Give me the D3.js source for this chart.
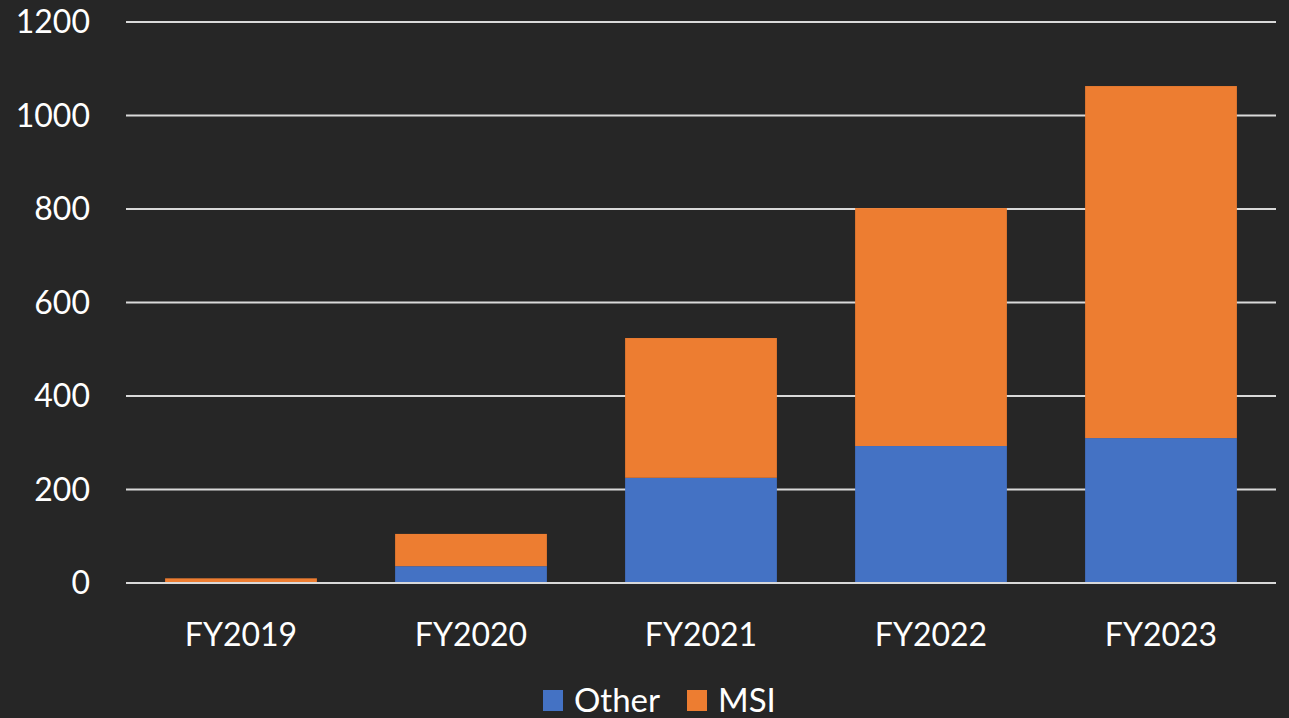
<!doctype html>
<html lang="en">
<head>
  <meta charset="utf-8">
  <script src="https://d3js.org/d3.v7.min.js"></script>
  <style>
    html, body { margin: 0; padding: 0; background: #262626; }
    svg { display: block; }
  </style>
</head>
<body>
<svg width="1289" height="718"></svg>
<script>

var categories = ["FY2019", "FY2020", "FY2021", "FY2022", "FY2023"];
var other = [0, 36, 225, 293, 310];
var msi = [10, 69, 299, 509, 753];
var seriesNames = ["Other", "MSI"];
var seriesColors = ["#4472C4", "#ED7D31"];
var yTicks = [0, 200, 400, 600, 800, 1000, 1200];

var svg = d3.select("svg"),
    width = 1289,
    height = 718,
    margin = {top: 22, right: 13, bottom: 135, left: 126},
    font = "Lato, 'Open Sans', sans-serif";

var rows = categories.map(function(c, i) {
  return {cat: c, Other: other[i], MSI: msi[i]};
});

var stack = d3.stack().keys(seriesNames)(rows);

var x = d3.scaleBand()
    .domain(categories)
    .range([margin.left, width - margin.right])
    .paddingInner(0.34)
    .paddingOuter(0.17);

var y = d3.scaleLinear()
    .domain([0, 1200])
    .range([height - margin.bottom, margin.top]);

// gridlines
svg.append("g")
  .selectAll("line")
  .data(yTicks)
  .join("line")
    .attr("x1", margin.left)
    .attr("x2", width - margin.right)
    .attr("y1", function(d) { return y(d); })
    .attr("y2", function(d) { return y(d); })
    .attr("stroke", "#D9D9D9")
    .attr("stroke-width", 2);

// bars
svg.append("g")
  .selectAll("g")
  .data(stack)
  .join("g")
    .attr("fill", function(d, i) { return seriesColors[i]; })
  .selectAll("rect")
  .data(function(d) { return d; })
  .join("rect")
    .attr("x", function(d) { return x(d.data.cat); })
    .attr("width", x.bandwidth())
    .attr("y", function(d) { return y(d[1]); })
    .attr("height", function(d) { return y(d[0]) - y(d[1]); });

// baseline drawn over bars
svg.append("line")
    .attr("x1", margin.left)
    .attr("x2", width - margin.right)
    .attr("y1", y(0))
    .attr("y2", y(0))
    .attr("stroke", "#D9D9D9")
    .attr("stroke-width", 2);

// y labels
svg.append("g")
  .selectAll("text")
  .data(yTicks)
  .join("text")
    .attr("x", 90)
    .attr("y", function(d) { return y(d); })
    .attr("dy", "0.35em")
    .attr("text-anchor", "end")
    .attr("fill", "#FFFFFF")
    .style("font-family", font)
    .style("font-size", "32px")
    .text(function(d) { return d; });

// x labels
svg.append("g")
  .selectAll("text")
  .data(categories)
  .join("text")
    .attr("x", function(d) { return x(d) + x.bandwidth() / 2; })
    .attr("y", 646)
    .attr("text-anchor", "middle")
    .attr("fill", "#FFFFFF")
    .style("font-family", font)
    .style("font-size", "32px")
    .text(function(d) { return d; });

// legend
var legendX = [543, 687];
var legend = svg.append("g")
  .selectAll("g")
  .data(seriesNames)
  .join("g")
    .attr("transform", function(d, i) { return "translate(" + legendX[i] + ",0)"; });

legend.append("rect")
    .attr("y", 690)
    .attr("width", 20)
    .attr("height", 21)
    .attr("fill", function(d, i) { return seriesColors[i]; });

legend.append("text")
    .attr("x", 31)
    .attr("y", 712)
    .attr("fill", "#FFFFFF")
    .style("font-family", font)
    .style("font-size", "33px")
    .text(function(d) { return d; });

</script>
</body>
</html>
